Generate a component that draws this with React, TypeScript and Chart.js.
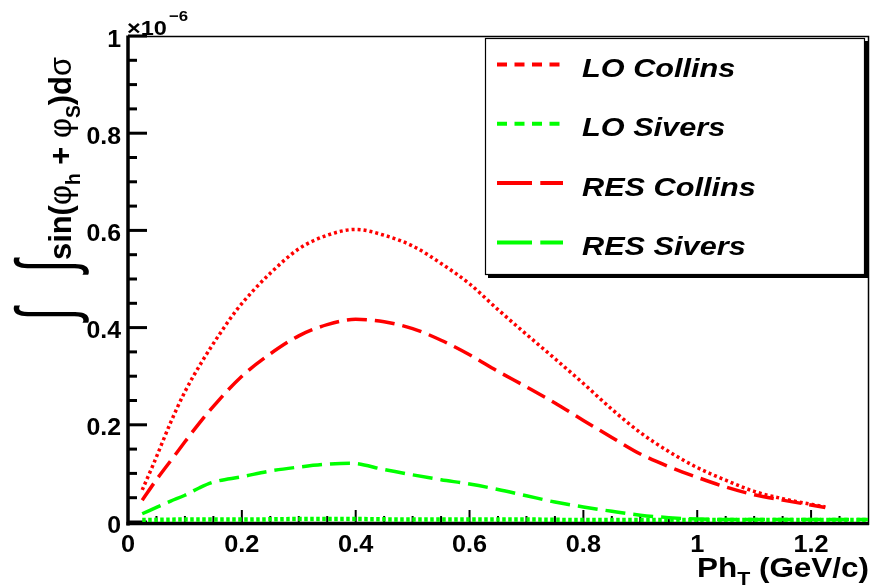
import React, { useEffect, useRef } from "react";
import { Chart, registerables } from "chart.js";

Chart.register(...registerables);

// ---- data (y values in units of 1e-6) ----
const seriesNames = ["LO Collins", "LO Sivers", "RES Collins", "RES Sivers"];

const loCollinsX = [0.025, 0.045, 0.075, 0.1, 0.13, 0.16, 0.19, 0.22, 0.25, 0.3, 0.35, 0.4, 0.45, 0.5, 0.55, 0.6, 0.65, 0.7, 0.75, 0.8, 0.85, 0.9, 0.95, 1.0, 1.05, 1.1, 1.15, 1.225];
const loCollinsY = [0.066, 0.12, 0.205, 0.268, 0.33, 0.385, 0.435, 0.476, 0.512, 0.562, 0.59, 0.602, 0.59, 0.568, 0.532, 0.49, 0.437, 0.386, 0.336, 0.285, 0.232, 0.184, 0.145, 0.112, 0.086, 0.063, 0.048, 0.031];

const loSiversX = [0.025, 0.1, 0.2, 0.3, 0.4, 0.5, 0.6, 0.7, 0.8, 0.9, 1.0, 1.1, 1.2, 1.3];
const loSiversY = [0.004, 0.005, 0.005, 0.006, 0.006, 0.005, 0.005, 0.005, 0.004, 0.004, 0.004, 0.004, 0.004, 0.004];

const resCollinsX = [0.025, 0.05, 0.075, 0.1, 0.125, 0.15, 0.2, 0.25, 0.3, 0.35, 0.4, 0.45, 0.5, 0.55, 0.6, 0.65, 0.7, 0.75, 0.8, 0.85, 0.9, 0.95, 1.0, 1.05, 1.1, 1.15, 1.225];
const resCollinsY = [0.045, 0.087, 0.126, 0.165, 0.203, 0.238, 0.3, 0.346, 0.383, 0.406, 0.417, 0.412, 0.398, 0.374, 0.344, 0.31, 0.278, 0.245, 0.209, 0.174, 0.14, 0.114, 0.092, 0.072, 0.056, 0.045, 0.03];

const resSiversX = [0.025, 0.05, 0.075, 0.1, 0.125, 0.15, 0.2, 0.25, 0.3, 0.35, 0.39, 0.45, 0.5, 0.55, 0.6, 0.65, 0.7, 0.75, 0.8, 0.85, 0.9, 0.95, 1.0, 1.1, 1.2, 1.3];
const resSiversY = [0.017, 0.03, 0.043, 0.055, 0.07, 0.082, 0.093, 0.105, 0.113, 0.119, 0.121, 0.108, 0.097, 0.087, 0.078, 0.067, 0.054, 0.041, 0.031, 0.022, 0.014, 0.009, 0.006, 0.005, 0.005, 0.005];

const xTickValues = [0, 0.2, 0.4, 0.6, 0.8, 1.0, 1.2];
const xTickLabels = ["0", "0.2", "0.4", "0.6", "0.8", "1", "1.2"];
const yTickValues = [0, 0.2, 0.4, 0.6, 0.8, 1.0];
const yTickLabels = ["0", "0.2", "0.4", "0.6", "0.8", "1"];
const xMinorTicks = [0.05, 0.1, 0.15, 0.25, 0.3, 0.35, 0.45, 0.5, 0.55, 0.65, 0.7, 0.75, 0.85, 0.9, 0.95, 1.05, 1.1, 1.15, 1.25];
const yMinorTicks = [0.05, 0.1, 0.15, 0.25, 0.3, 0.35, 0.45, 0.5, 0.55, 0.65, 0.7, 0.75, 0.85, 0.9, 0.95];

const X_MIN = 0;
const X_MAX = 1.3;
const Y_MIN = 0;
const Y_MAX = 1.0;

const RED = "#ff0000";
const GREEN = "#00ff00";
const FONT = "'Liberation Sans', Arial, Helvetica, sans-serif";

const pts = (xs: number[], ys: number[]) => xs.map((x, i) => ({ x, y: ys[i] }));

function stretchText(ctx: CanvasRenderingContext2D, text: string, x: number, y: number, font: string, align: string, sx: number) {
  ctx.save();
  ctx.font = font;
  ctx.textAlign = "left";
  ctx.textBaseline = "alphabetic";
  const w = ctx.measureText(text).width * sx;
  const x0 = align === "center" ? x - w / 2 : align === "right" ? x - w : x;
  ctx.translate(x0, y);
  ctx.scale(sx, 1);
  ctx.fillText(text, 0, 0);
  ctx.restore();
  return w;
}

type Seg = { t: string; f: string; dy: number };

function segWidth(ctx: CanvasRenderingContext2D, segs: Seg[]) {
  let w = 0;
  for (const s of segs) {
    ctx.font = s.f;
    w += ctx.measureText(s.t).width;
  }
  return w;
}

function drawSegs(ctx: CanvasRenderingContext2D, segs: Seg[]) {
  let x = 0;
  for (const s of segs) {
    ctx.font = s.f;
    ctx.fillText(s.t, x, s.dy);
    x += ctx.measureText(s.t).width;
  }
}

const legendStyles = [
  { color: RED, dash: [10, 7.5] },
  { color: GREEN, dash: [10, 7.5] },
  { color: RED, dash: [35, 8.3] },
  { color: GREEN, dash: [35, 8.3] },
];

const rootStyle = {
  id: "rootStyle",
  beforeDatasetsDraw(chart: any) {
    const { ctx, chartArea: a, scales } = chart;
    const xs = scales.x;
    const ys = scales.y;
    ctx.save();
    ctx.strokeStyle = "#000";
    ctx.fillStyle = "#000";
    // thin top & right frame
    ctx.lineWidth = 1.5;
    ctx.beginPath();
    ctx.moveTo(a.left, a.top + 0.5);
    ctx.lineTo(a.right + 0.5, a.top + 0.5);
    ctx.lineTo(a.right + 0.5, a.bottom + 3);
    ctx.stroke();
    // thick left & bottom axes
    ctx.lineWidth = 3.5;
    ctx.beginPath();
    ctx.moveTo(a.left, a.top - 0.5);
    ctx.lineTo(a.left, a.bottom + 3.5);
    ctx.stroke();
    ctx.beginPath();
    ctx.moveTo(a.left - 1.5, a.bottom + 1.5);
    ctx.lineTo(a.right + 1, a.bottom + 1.5);
    ctx.stroke();
    // y ticks (inside)
    ctx.lineWidth = 3;
    for (const v of yTickValues) {
      const y = ys.getPixelForValue(v);
      ctx.beginPath();
      ctx.moveTo(a.left, y);
      ctx.lineTo(a.left + 19, y);
      ctx.stroke();
    }
    for (const v of yMinorTicks) {
      const y = ys.getPixelForValue(v);
      ctx.beginPath();
      ctx.moveTo(a.left, y);
      ctx.lineTo(a.left + 9, y);
      ctx.stroke();
    }
    // x ticks (inside)
    ctx.lineWidth = 2;
    for (const v of xTickValues) {
      const x = xs.getPixelForValue(v);
      ctx.beginPath();
      ctx.moveTo(x, a.bottom);
      ctx.lineTo(x, a.bottom - 12);
      ctx.stroke();
    }
    for (const v of xMinorTicks) {
      const x = xs.getPixelForValue(v);
      ctx.beginPath();
      ctx.moveTo(x, a.bottom);
      ctx.lineTo(x, a.bottom - 6);
      ctx.stroke();
    }
    ctx.restore();
  },
  afterDraw(chart: any) {
    const { ctx, scales } = chart;
    const xs = scales.x;
    const ys = scales.y;
    ctx.save();
    ctx.fillStyle = "#000";
    // tick labels
    yTickValues.forEach((v, i) => {
      const y = ys.getPixelForValue(v);
      stretchText(ctx, yTickLabels[i], 121, y + 10.5, `bold 23px ${FONT}`, "right", 1.08);
    });
    xTickValues.forEach((v, i) => {
      const x = xs.getPixelForValue(v);
      stretchText(ctx, xTickLabels[i], x, 552, `bold 23px ${FONT}`, "center", 1.1);
    });
    // exponent
    const w1 = stretchText(ctx, "\u00d710", 127, 35, `bold 21px ${FONT}`, "left", 1.12);
    stretchText(ctx, "\u22126", 127 + w1 + 2, 21, `bold 15px ${FONT}`, "left", 1.12);

    // x title
    const xt: Seg[] = [
      { t: "Ph", f: `bold 28px ${FONT}`, dy: 0 },
      { t: "T", f: `bold 19px ${FONT}`, dy: 8 },
      { t: " (GeV/c)", f: `bold 28px ${FONT}`, dy: 0 },
    ];
    const xw = segWidth(ctx, xt);
    const xsx = 172 / xw;
    ctx.save();
    ctx.textAlign = "left";
    ctx.textBaseline = "alphabetic";
    ctx.translate(869 - 172, 576.5);
    ctx.scale(xsx, 1);
    drawSegs(ctx, xt);
    ctx.restore();

    // y title (rotated)
    const yt: Seg[] = [
      { t: "sin(", f: `bold 32px ${FONT}`, dy: 0 },
      { t: "\u03c6", f: `32px ${FONT}`, dy: 0 },
      { t: "h", f: `bold 20px ${FONT}`, dy: 9 },
      { t: " + ", f: `bold 32px ${FONT}`, dy: 0 },
      { t: "\u03c6", f: `32px ${FONT}`, dy: 0 },
      { t: "S", f: `bold 20px ${FONT}`, dy: 9 },
      { t: ")d", f: `bold 32px ${FONT}`, dy: 0 },
      { t: "\u03c3", f: `32px ${FONT}`, dy: 0 },
    ];
    const yw = segWidth(ctx, yt);
    const ysx = 203 / yw;
    ctx.save();
    ctx.textAlign = "left";
    ctx.textBaseline = "alphabetic";
    ctx.translate(71, 260);
    ctx.rotate(-Math.PI / 2);
    ctx.scale(ysx, 1);
    drawSegs(ctx, yt);
    ctx.restore();

    // integral signs (rotated, thin, stretched along their height)
    ctx.save();
    const intFont = `36px ${FONT}`;
    ctx.font = intFont;
    const m = ctx.measureText("\u222b");
    const ink = m.actualBoundingBoxAscent + m.actualBoundingBoxDescent || 36;
    const k = 77 / ink;
    const asc = (m.actualBoundingBoxAscent || 28) * k;
    ctx.restore();
    for (const yc of [266, 314]) {
      ctx.save();
      ctx.font = intFont;
      ctx.textAlign = "center";
      ctx.textBaseline = "alphabetic";
      ctx.translate(13 + asc, yc);
      ctx.rotate(-Math.PI / 2);
      ctx.scale(1.3, k);
      ctx.fillText("\u222b", 0, 0);
      ctx.restore();
    }

    // legend
    const L = { x: 485, y: 38, w: 380, h: 237 };
    ctx.fillStyle = "#000";
    ctx.fillRect(L.x + 3, L.y + 3, L.w, L.h);
    ctx.fillStyle = "#fff";
    ctx.fillRect(L.x, L.y, L.w, L.h);
    ctx.strokeStyle = "#000";
    ctx.lineWidth = 1.2;
    ctx.strokeRect(L.x + 0.5, L.y + 0.5, L.w - 1, L.h - 1);
    seriesNames.forEach((name, i) => {
      const sy = 64.5 + i * 59.3;
      const st = legendStyles[i];
      ctx.save();
      ctx.strokeStyle = st.color;
      ctx.lineWidth = 4;
      ctx.lineCap = "butt";
      ctx.setLineDash(st.dash);
      ctx.beginPath();
      ctx.moveTo(497, sy);
      ctx.lineTo(563, sy);
      ctx.stroke();
      ctx.restore();
      ctx.fillStyle = "#000";
      stretchText(ctx, name, 582, sy + 12.5, `italic bold 26px ${FONT}`, "left", 1.18);
    });
    ctx.restore();
  },
};

export default function App() {
  const ref = useRef<HTMLCanvasElement | null>(null);
  useEffect(() => {
    const canvas = ref.current;
    if (!canvas) return;
    const common = {
      pointRadius: 0,
      pointHoverRadius: 0,
      borderCapStyle: "butt" as const,
      fill: false,
      cubicInterpolationMode: "monotone" as const,
    };
    const chart = new Chart(canvas, {
      type: "line",
      data: {
        datasets: [
          { label: seriesNames[0], data: pts(loCollinsX, loCollinsY), borderColor: RED, borderWidth: 3.5, borderDash: [3, 3], ...common },
          { label: seriesNames[1], data: pts(loSiversX, loSiversY), borderColor: GREEN, borderWidth: 4.5, borderDash: [3.5, 2.5], ...common },
          { label: seriesNames[2], data: pts(resCollinsX, resCollinsY), borderColor: RED, borderWidth: 3.5, borderDash: [20, 8], ...common },
          { label: seriesNames[3], data: pts(resSiversX, resSiversY), borderColor: GREEN, borderWidth: 3.5, borderDash: [20, 8], ...common },
        ],
      },
      options: {
        animation: false,
        responsive: false,
        devicePixelRatio: 1,
        events: [],
        layout: { padding: { left: 128, right: 6, top: 36, bottom: 64 } },
        plugins: { legend: { display: false }, tooltip: { enabled: false } },
        scales: {
          x: { type: "linear", min: X_MIN, max: X_MAX, display: false },
          y: { type: "linear", min: Y_MIN, max: Y_MAX, display: false },
        },
      },
      plugins: [rootStyle],
    });
    return () => chart.destroy();
  }, []);
  return (
    <div style={{ position: "absolute", left: 0, top: 0, width: 874, height: 586, background: "#fff" }}>
      <canvas ref={ref} width={874} height={586} style={{ display: "block", width: 874, height: 586 }} />
    </div>
  );
}
